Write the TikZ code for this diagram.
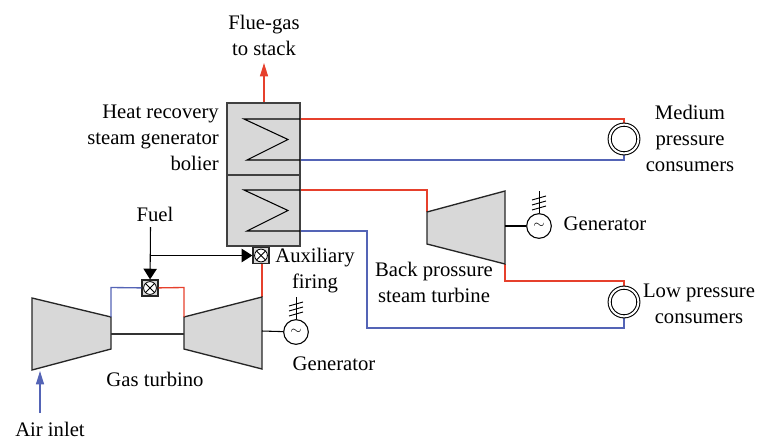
\documentclass[tikz,border=0pt]{standalone}
\usepackage{fontspec}
\setmainfont{Liberation Serif}
\usetikzlibrary{arrows.meta, calc}
\definecolor{hotline}{RGB}{230,64,44}
\definecolor{coldline}{RGB}{84,100,182}
\definecolor{bodygray}{RGB}{216,216,216}
\begin{document}
\begin{tikzpicture}[x=0.75pt, y=-0.75pt]
	\tikzstyle{hot}     = [draw=hotline, line width=1pt]
	\tikzstyle{cold}    = [draw=coldline, line width=1pt]
	\tikzstyle{wire}    = [draw=black, line width=0.8pt]
	\tikzstyle{section} = [rectangle, draw=black!75, fill=bodygray, line width=1.1pt, minimum width=54.75pt, inner sep=0pt]
	\tikzstyle{turbine} = [draw=black!85, fill=bodygray, line width=1pt, line join=miter]
	\tikzstyle{valve}   = [rectangle, draw=black!85, fill=bodygray, line width=0.9pt, minimum size=12pt, inner sep=0pt]
	\tikzstyle{user}    = [circle, draw=black, fill=white, double, double distance=1.5pt, line width=0.8pt, minimum size=21.5pt, inner sep=0pt]
	\tikzstyle{dyn}     = [circle, draw=black, fill=white, line width=0.8pt, minimum size=18.5pt, inner sep=0pt]
	\tikzstyle{label}   = [inner sep=0pt, align=center, font=\fontsize{15.5}{19.5}\selectfont]

	\useasboundingbox (0,0) rectangle (759,439);

	% coordinates of the machines and line bends
	\foreach \name/\x/\y in {cA/32/298, cB/111/317, cC/111/349, cD/32/370,
			tA/184/317, tB/262/297, tC/262/369, tD/184/349,
			bA/427/212, bB/505/191, bC/505/264, bD/427/244,
			stack/264/63, flue/264/103, air/40/371, airin/40/413, fuelin/150.5/227, fuelj/150.5/255.5,
			upA/111/287.5, upB/184/287.5, hpA/624/119, hpB/427/190, hpC/300/190,
			lpA/505/281, lpB/624/281, rtA/367/231, rtB/367/328, rtC/624/328, rtD/300/231,
			mrA/300/119, mrB/300/160, mrC/624/160, sA/505/226, sB/262/331, shA/111/334, shB/184/334}
		\coordinate (\name) at (\x, \y);

	% lines under the machines
	\draw[hot] (mrA) -- (hpA) -- (624,139);
	\draw[cold] (mrB) -- (mrC) -- (624,139);
	\draw[hot] (hpC) -- (hpB) -- (bA);
	\draw[hot] (bC) -- (lpA) -- (lpB) -- (624,302);
	\draw[cold] (rtD) -- (rtA) -- (rtB) -- (rtC) -- (624,302);
	\draw[hot] (262,246) -- (tB);
	\draw[hot, -{Stealth[length=10pt, width=6pt, inset=0pt]}] (flue) -- (stack);
	\draw[cold, -{Stealth[length=10pt, width=6pt, inset=0pt]}] (airin) -- (air);

	% boiler with both coils
	\node[section, minimum height=54pt] (upper) at (263.5, 139) {};
	\node[section, minimum height=53.25pt] (lower) at (263.5, 210.5) {};
	\foreach \top/\mid/\low in {119/139.5/160, 190/210.5/231}
		\draw[wire] (300,\top) -- (244,\top) -- (288,\mid) -- (247,\low) -- (300,\low);

	% gas turbine and steam turbine
	\draw[turbine] (cA) -- (cB) -- (cC) -- (cD) -- cycle;
	\draw[turbine] (tA) -- (tB) -- (tC) -- (tD) -- cycle;
	\draw[turbine] (bA) -- (bB) -- (bC) -- (bD) -- cycle;
	\draw[draw=black!80, line width=1.1pt] (shA) -- (shB);

	% valves
	\node[valve] (firing) at (261, 255.5) {};
	\node[valve] (burner) at (150, 288) {};
	\draw[cold] (cB) -- (upA) -- (burner);
	\draw[hot] (burner) -- (upB) -- (tA);
	\foreach \v in {firing, burner} {
		\draw[line width=0.6pt, fill=white] (\v) circle (6.4);
		\draw[line width=0.6pt] ($(\v)+(-4.5,-4.5)$) -- ($(\v)+(4.5,4.5)$);
		\draw[line width=0.6pt] ($(\v)+(-4.5,4.5)$) -- ($(\v)+(4.5,-4.5)$);
	}
	\draw[wire, -{Triangle[length=8pt, width=10pt]}] (fuelin) -- (burner);
	\draw[wire, -{Triangle[length=8pt, width=10pt]}] (fuelj) -- (firing);

	% consumers
	\node[user] (medium) at (624, 139) {};
	\node[user] (low) at (624, 302) {};

	% generators
	\node[dyn] (genS) at (539, 226) {\raisebox{-2pt}{\fontsize{11}{11}\selectfont$\sim$}};
	\node[dyn] (genG) at (296, 332) {\raisebox{-2pt}{\fontsize{11}{11}\selectfont$\sim$}};
	\draw[wire] (sA) -- (genS);
	\draw[wire] (sB) -- (genG);
	\foreach \g/\x/\y in {genS/539/214, genG/296/320} {
		\draw[wire, line width=0.7pt] (\g) -- (\x, \y-23);
		\foreach \d in {6, 11, 16}
			\draw[wire, line width=0.7pt] (\x-7, \y-\d+2) -- (\x+7, \y-\d-2);
	}

	% texts
	\node[label] (lblflue) at (264, 35) {Flue-gas\\to stack};
	\node[label, align=right, anchor=east] (lblboiler) at (219, 138) {Heat recovery\\steam generator\\bolier};
	\node[label] (lblmedium) at (690, 138) {Medium\\pressure\\consumers};
	\node[label] (lblgenS) at (605, 224) {Generator};
	\node[label] (lblback) at (434, 282) {Back prossure\\steam turbine};
	\node[label] (lbllow) at (699, 304) {Low pressure\\consumers};
	\node[label] (lblaux) at (315, 271) {Auxiliary\\firing};
	\node[label] (lblfuel) at (155, 214) {Fuel};
	\node[label] (lblgas) at (155, 379) {Gas turbino};
	\node[label] (lblgenG) at (334, 364) {Generator};
	\node[label] (lblair) at (50, 429) {Air inlet};
\end{tikzpicture}
\end{document}
